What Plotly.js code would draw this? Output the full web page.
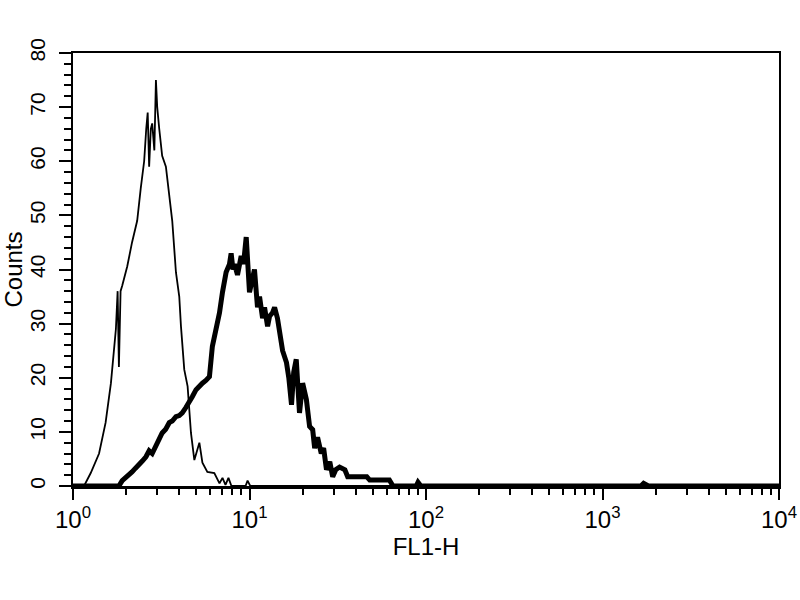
<!DOCTYPE html>
<html>
<head>
<meta charset="utf-8">
<script src="https://cdn.plot.ly/plotly-3.0.1.min.js"></script>
<style>html,body{margin:0;padding:0;background:#fff;}#chart{width:800px;height:600px;}</style>
</head>
<body>
<div id="chart"></div>
<script>
// Control (thin) histogram: FL1-H value vs counts
var thinX = [1, 1.155, 1.26, 1.405, 1.53, 1.64, 1.75, 1.79, 1.82, 1.86,
  1.90, 2.03, 2.16, 2.31, 2.42, 2.53, 2.60, 2.65, 2.70, 2.76,
  2.81, 2.89, 2.95, 3.00, 3.08, 3.20, 3.36, 3.51, 3.65, 3.83,
  4.00, 4.09, 4.27, 4.46, 4.66, 4.87, 5.0, 5.20, 5.41, 5.77,
  6.32, 6.76, 7.03, 7.31, 7.6, 7.9, 9.5, 9.75, 10.1, 10000];
var thinY = [0, 0, 2.4, 6, 11.7, 19, 29, 36, 22, 36,
  37, 40.6, 45, 49, 55, 60, 66, 69, 59, 66,
  67, 62, 75, 70, 66, 61, 59, 54, 49, 39.5,
  35, 29.5, 21.5, 18.4, 9.8, 4.8, 6, 8, 4.3, 2.6,
  2.4, 0.5, 1.5, 0.2, 1.5, 0, 0, 1, 0, 0];

// Stained (thick) histogram
var thickX = [1, 1.82, 1.90, 1.99, 2.08, 2.16, 2.26, 2.37, 2.47, 2.59,
  2.70, 2.81, 2.94, 3.08, 3.20, 3.35, 3.51, 3.65, 3.83, 4.00,
  4.16, 4.36, 4.56, 4.74, 4.98, 5.20, 5.41, 5.66, 5.93, 6.16,
  6.47, 6.76, 7.03, 7.37, 7.70, 7.87, 8.06, 8.22, 8.55, 8.97,
  9.25, 9.58, 10.0, 10.27, 10.67, 11.1, 11.4, 11.86, 12.17, 12.66,
  13.0, 13.5, 13.87, 14.4, 14.8, 15.4, 16.2, 16.7, 17.3, 17.8,
  18.4, 18.9, 19.2, 20.0, 21.0, 21.9, 22.8, 23.4, 24.3, 25.5,
  26.3, 27.3, 28.5, 29.6, 30.8, 32.4, 34.7, 36.0, 38.5, 46.2,
  48, 62, 65, 88, 90.1, 93.5, 1650, 1710, 1820, 10000];
var thickY = [0, 0, 1, 1.5, 2, 2.6, 3.3, 3.9, 4.6, 5.4,
  6.5, 6, 7.5, 8.5, 9.8, 10.5, 11.7, 12, 12.8, 13,
  13.5, 14.5, 15.4, 16.5, 17.8, 18.5, 19, 19.5, 20.2, 25.8,
  29, 32, 35.8, 39.5, 41, 43, 40, 41, 39, 42.5,
  41, 46, 35.8, 38, 40, 33, 35, 31, 33, 29.5,
  31.4, 32, 33, 31, 28, 25, 22.8, 20, 15, 21,
  23.4, 17, 13.5, 19, 16, 11, 10.4, 7, 9, 6,
  7, 3, 4.5, 1.7, 3, 3.5, 3, 1.7, 1.7, 1.7,
  1.1, 1.1, 0, 0, 0.7, 0, 0, 0.5, 0, 0];

var xTickVals = [1, 10, 100, 1000, 10000];
var xTickText = ['10<sup>0</sup>', '10<sup>1</sup>', '10<sup>2</sup>', '10<sup>3</sup>', '10<sup>4</sup>'];
var xTitle = 'FL1-H';
var yTitle = 'Counts';

var font = 'Liberation Sans, Arial, sans-serif';

var traces = [
  {x: thinX, y: thinY, type: 'scatter', mode: 'lines',
   line: {color: '#000', width: 1.8, shape: 'linear'}, hoverinfo: 'skip'},
  {x: thickX, y: thickY, type: 'scatter', mode: 'lines',
   line: {color: '#000', width: 5, shape: 'linear'}, hoverinfo: 'skip'}
];

var layout = {
  width: 800, height: 600,
  margin: {l: 73, r: 21, t: 53, b: 114},
  paper_bgcolor: '#fff', plot_bgcolor: '#fff',
  showlegend: false,
  font: {family: font, color: '#000'},
  xaxis: {
    type: 'log', range: [0, 4],
    tickmode: 'array', tickvals: xTickVals, ticktext: xTickText,
    ticks: 'outside', ticklen: 11, tickwidth: 2, tickcolor: '#000',
    minor: {ticks: 'outside', dtick: 'D1', ticklen: 6, tickwidth: 2, tickcolor: '#000', showgrid: false},
    showline: true, linewidth: 2.5, linecolor: '#000', mirror: true,
    showgrid: false, zeroline: false,
    tickfont: {size: 24, family: font, color: '#000'},
    title: {text: xTitle, font: {size: 24, family: font, color: '#000'}, standoff: 2},
    automargin: false
  },
  yaxis: {
    range: [0, 80], dtick: 10, tick0: 0,
    tickangle: -90,
    ticks: 'outside', ticklen: 12, tickwidth: 2, tickcolor: '#000',
    minor: {ticks: 'outside', dtick: 2, ticklen: 7, tickwidth: 2, tickcolor: '#000', showgrid: false},
    showline: true, linewidth: 2, linecolor: '#000', mirror: true,
    showgrid: false, zeroline: false,
    ticklabelstandoff: 6,
    tickfont: {size: 21, family: font, color: '#000'},
    title: {text: yTitle, font: {size: 24, family: font, color: '#000'}, standoff: 2},
    automargin: false
  }
};

Plotly.newPlot('chart', traces, layout, {displayModeBar: false, staticPlot: true});
</script>
</body>
</html>
